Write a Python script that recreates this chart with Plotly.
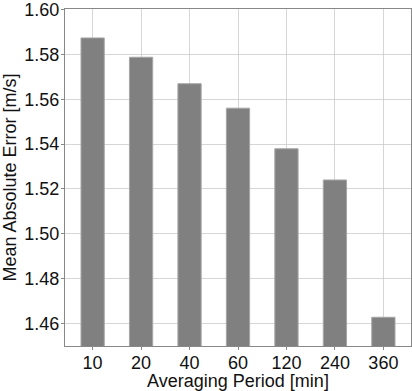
import plotly.graph_objects as go

periods = ["10", "20", "40", "60", "120", "240", "360"]
mae = [1.5873, 1.5787, 1.5669, 1.5560, 1.5379, 1.5240, 1.4628]
y_ticks = [1.46, 1.48, 1.50, 1.52, 1.54, 1.56, 1.58, 1.60]

fig = go.Figure(go.Bar(
    x=periods, y=mae, width=0.48,
    marker=dict(color="#808080", line=dict(color="#a6a6a6", width=1)),
))

font = dict(family="Liberation Sans, Arial, sans-serif", size=18, color="#111111")
fig.update_layout(
    width=412, height=391,
    margin=dict(l=65, r=1, t=9, b=45),
    paper_bgcolor="white", plot_bgcolor="white",
    font=font, showlegend=False,
    xaxis=dict(
        type="category", range=[-0.57, 6.57], automargin=False,
        title=dict(text="Averaging Period [min]", font=font, standoff=0),
        showgrid=True, gridcolor="rgba(200,200,200,0.75)", gridwidth=1,
        showline=True, linecolor="#888888", linewidth=1, mirror=True,
        ticks="outside", ticklen=3, tickcolor="#888888",
        ticklabelstandoff=-3,
        layer="above traces",
    ),
    yaxis=dict(
        range=[1.45, 1.6002], tickvals=y_ticks, tickformat=".2f", automargin=False,
        title=dict(text="Mean Absolute Error [m/s]", font=font, standoff=4),
        showgrid=True, gridcolor="rgba(200,200,200,0.75)", gridwidth=1,
        showline=True, linecolor="#888888", linewidth=1, mirror=True,
        ticks="outside", ticklen=3, tickcolor="#888888",
        ticklabelstandoff=-2, ticklabeloverflow="allow",
        zeroline=False,
        layer="above traces",
    ),
)

fig.write_html("out.html", config={"displayModeBar": False},
               post_script="document.body.style.margin='0px';")
